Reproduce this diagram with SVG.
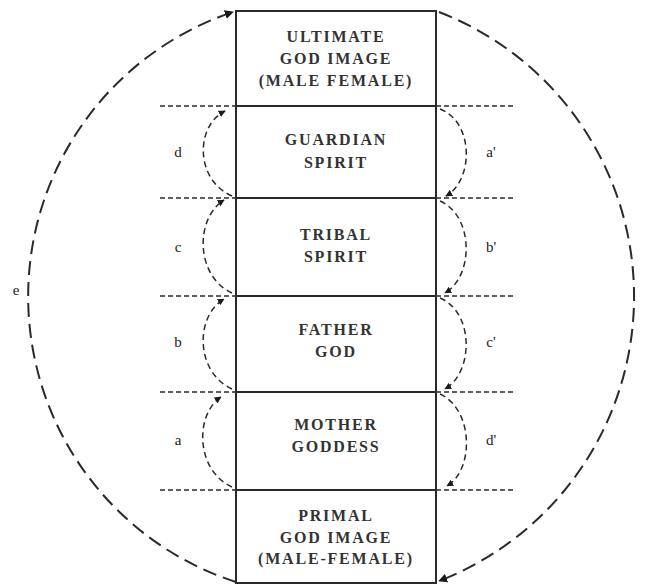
<svg xmlns="http://www.w3.org/2000/svg" width="647" height="586" viewBox="0 0 647 586">
<style>
.box{fill:none;stroke:#2a2a2a;stroke-width:2}
.sep{stroke:#2a2a2a;stroke-width:2}
.hd{stroke:#2a2a2a;stroke-width:1.6;stroke-dasharray:5 3}
.arc{fill:none;stroke:#2a2a2a;stroke-width:1.5;stroke-dasharray:6 4}
.big{fill:none;stroke:#2a2a2a;stroke-width:2;stroke-dasharray:14 7}
.t{font-family:"Liberation Serif","Times New Roman",serif;font-size:16px;font-weight:bold;fill:#333;text-anchor:middle;letter-spacing:1.8px}
.l{font-family:"Liberation Serif","Times New Roman",serif;font-size:15px;fill:#222;text-anchor:middle}
</style>
<defs>
<marker id="ah" viewBox="0 0 10 10" refX="9" refY="5" markerWidth="7" markerHeight="7" markerUnits="userSpaceOnUse" orient="auto">
<path d="M0,0 L10,5 L0,10 z" fill="#1a1a1a"/>
</marker>
<marker id="ahb" viewBox="0 0 10 10" refX="9" refY="5" markerWidth="9" markerHeight="9" markerUnits="userSpaceOnUse" orient="auto">
<path d="M0,0 L10,5 L0,10 z" fill="#1a1a1a"/>
</marker>
</defs>

<g id="connectors">
<path class="big" d="M236,582 A300,300 0 0 1 233,12" marker-end="url(#ahb)"/>
<path class="big" d="M439,12 A305,305 0 0 1 439,581" marker-end="url(#ahb)"/>
<g id="levels">
<line class="hd" x1="160" y1="106" x2="236" y2="106"/><line class="hd" x1="436" y1="106" x2="515" y2="106"/>
<line class="hd" x1="160" y1="198" x2="236" y2="198"/><line class="hd" x1="436" y1="198" x2="515" y2="198"/>
<line class="hd" x1="160" y1="296" x2="236" y2="296"/><line class="hd" x1="436" y1="296" x2="515" y2="296"/>
<line class="hd" x1="160" y1="392" x2="236" y2="392"/><line class="hd" x1="436" y1="392" x2="515" y2="392"/>
<line class="hd" x1="160" y1="490" x2="236" y2="490"/><line class="hd" x1="436" y1="490" x2="515" y2="490"/>
</g>
<path class="arc" d="M232,196 C195,180 195,126 225,111" marker-end="url(#ah)"/>
<path class="arc" d="M232,293 C195,276 195,218 224,200" marker-end="url(#ah)"/>
<path class="arc" d="M232,389 C195,372 195,316 224,299" marker-end="url(#ah)"/>
<path class="arc" d="M232,487 C195,470 195,414 221,397" marker-end="url(#ah)"/>
<path class="arc" d="M440,109 C474,122 474,180 446,196" marker-end="url(#ah)"/>
<path class="arc" d="M440,201 C474,216 474,276 445,293" marker-end="url(#ah)"/>
<path class="arc" d="M440,298 C474,312 474,372 445,389" marker-end="url(#ah)"/>
<path class="arc" d="M440,394 C474,410 474,470 447,486" marker-end="url(#ah)"/>
</g>

<g id="labels">
<text class="l" x="178" y="157">d</text>
<text class="l" x="178" y="252">c</text>
<text class="l" x="178" y="347">b</text>
<text class="l" x="178" y="445">a</text>
<text class="l" x="491" y="157">a'</text>
<text class="l" x="491" y="252">b'</text>
<text class="l" x="491" y="347">c'</text>
<text class="l" x="491" y="445">d'</text>
<text class="l" x="16" y="295">e</text>
</g>

<rect class="box" x="236" y="11" width="200" height="572"/>

<g id="ultimate">
<text class="t" x="336" y="42">ULTIMATE</text>
<text class="t" x="336" y="64">GOD IMAGE</text>
<text class="t" x="336" y="86">(MALE FEMALE)</text>
</g>
<g id="guardian">
<line class="sep" x1="236" y1="106" x2="436" y2="106"/>
<text class="t" x="336" y="145">GUARDIAN</text>
<text class="t" x="336" y="168">SPIRIT</text>
</g>
<g id="tribal">
<line class="sep" x1="236" y1="198" x2="436" y2="198"/>
<text class="t" x="336" y="240">TRIBAL</text>
<text class="t" x="336" y="262">SPIRIT</text>
</g>
<g id="father">
<line class="sep" x1="236" y1="296" x2="436" y2="296"/>
<text class="t" x="336" y="335">FATHER</text>
<text class="t" x="336" y="357">GOD</text>
</g>
<g id="mother">
<line class="sep" x1="236" y1="392" x2="436" y2="392"/>
<text class="t" x="336" y="430">MOTHER</text>
<text class="t" x="336" y="452">GODDESS</text>
</g>
<g id="primal">
<line class="sep" x1="236" y1="490" x2="436" y2="490"/>
<text class="t" x="336" y="521">PRIMAL</text>
<text class="t" x="336" y="543">GOD IMAGE</text>
<text class="t" x="336" y="564">(MALE-FEMALE)</text>
</g>
</svg>
